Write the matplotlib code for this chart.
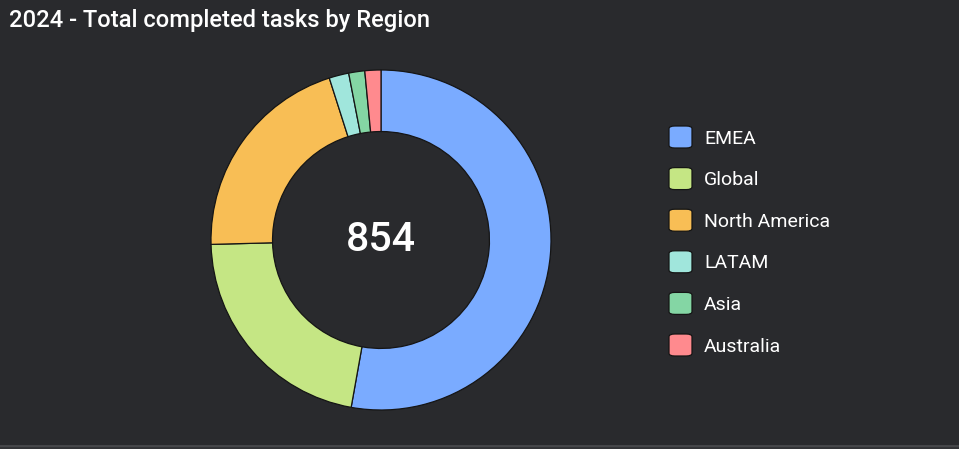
import matplotlib.pyplot as plt
from matplotlib.patches import FancyBboxPatch

regions = ["EMEA", "Global", "North America", "LATAM", "Asia", "Australia"]
tasks = [451, 186, 175, 16, 13, 13]
colors = ["#7aabff", "#c5e684", "#f8be55", "#a0e6dc", "#84d6a4", "#ff8a8e"]
title = "2024 - Total completed tasks by Region"

bg = "#292a2d"
W, H = 959, 449

plt.rcParams['font.family'] = ['Roboto', 'DejaVu Sans']

fig = plt.figure(figsize=(W / 100, H / 100), dpi=100, facecolor=bg)

# donut, centre at (381, 240) px, outer radius 170 px
cx, cy, R, pad = 381, 240, 170, 10
ax = fig.add_axes([(cx - R - pad) / W, (H - cy - R - pad) / H,
                   2 * (R + pad) / W, 2 * (R + pad) / H])
ax.set_facecolor(bg)
ax.pie(tasks, colors=colors, startangle=90, counterclock=False, radius=1,
       wedgeprops=dict(width=0.362, edgecolor="#151515", linewidth=0.9))
lim = (R + pad) / R
ax.set_xlim(-lim, lim)
ax.set_ylim(-lim, lim)
ax.set_aspect('equal')
ax.axis('off')
ax.text(0, 0, str(sum(tasks)), ha='center', va='center', color='white',
        fontsize=29.5, fontweight='medium')

fig.text(9 / W, 1 - 20 / H, title, ha='left', va='center', color='white',
         fontsize=17.1, fontweight='medium')

# legend
for i, (lab, col) in enumerate(zip(regions, colors)):
    yc = 137 + i * 41.6
    box = FancyBboxPatch(((669) / W, (H - yc - 11) / H), 23 / W, 22 / H,
                         boxstyle="round,pad=0,rounding_size=0.006",
                         transform=fig.transFigure, facecolor=col,
                         edgecolor="#151515", linewidth=0.9)
    fig.patches.append(box)
    fig.text(704 / W, 1 - (yc + 1.5) / H, lab, ha='left', va='center',
             color='white', fontsize=14)

# bottom separator
fig.add_artist(plt.Line2D([0, 1], [3.5 / H, 3.5 / H], color="#4a4b4e",
                          linewidth=1.2, transform=fig.transFigure))
fig.patches.append(plt.Rectangle((0, 0), 1, 3 / H, transform=fig.transFigure,
                                 facecolor="#333437", edgecolor='none'))

fig.savefig("out.png", dpi=100, facecolor=bg)
